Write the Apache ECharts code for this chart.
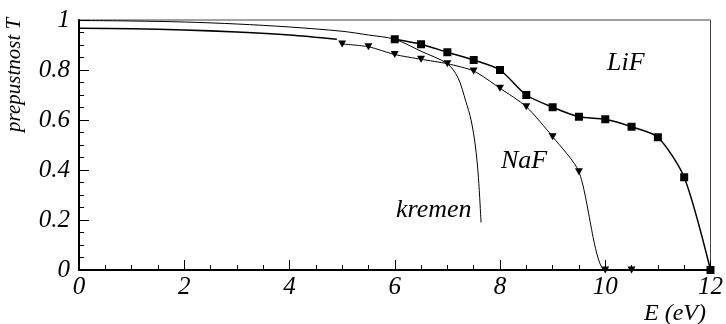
<!DOCTYPE html>
<html>
<head>
<meta charset="utf-8">
<script src="https://cdn.jsdelivr.net/npm/echarts@6/dist/echarts.min.js"></script>
<style>
html,body{margin:0;padding:0;background:#fff;}
#c{width:726px;height:324px;}
</style>
</head>
<body>
<div id="c"></div>
<script>
// Data
var kremenE = [0, 1, 2, 3, 4, 5, 5.5, 6, 6.5, 7, 7.2, 7.35, 7.45, 7.53, 7.59, 7.64];
var kremenT = [0.998, 0.996, 0.992, 0.984, 0.972, 0.955, 0.94, 0.923, 0.875, 0.825, 0.77, 0.675, 0.6, 0.5, 0.37, 0.19];

var nafLowE = [0, 1, 2, 3, 4, 4.9];
var nafLowT = [0.967, 0.965, 0.96, 0.952, 0.94, 0.923];

var nafE = [5, 5.5, 6, 6.5, 7, 7.5, 8, 8.5, 9, 9.5, 10, 10.5];
var nafT = [0.904, 0.893, 0.862, 0.843, 0.825, 0.796, 0.727, 0.653, 0.533, 0.393, 0.0, 0.0];

var lifE = [6, 6.5, 7, 7.5, 8, 8.5, 9, 9.5, 10, 10.5, 11, 11.5, 12];
var lifT = [0.923, 0.903, 0.871, 0.84, 0.8, 0.70, 0.651, 0.613, 0.603, 0.573, 0.531, 0.371, 0.0];

var xTicks = [0, 2, 4, 6, 8, 10, 12];
var yTicks = [0, 0.2, 0.4, 0.6, 0.8, 1];

var materialLabels = ['LiF', 'NaF', 'kremen'];
var xName = 'E (eV)';
var yName = 'prepustnost T';

function pairs(xs, ys) { return xs.map(function (x, i) { return [x, ys[i]]; }); }

var FONT = '"Liberation Serif", "DejaVu Serif", serif';
var chart = echarts.init(document.getElementById('c'), null, { renderer: 'canvas' });

var axisLabelStyle = { fontFamily: FONT, fontStyle: 'italic', fontSize: 25, color: '#000' };

chart.setOption({
  animation: false,
  backgroundColor: '#fff',
  grid: { left: 79, right: 13, top: 20, bottom: 54, show: true, borderColor: '#444', borderWidth: 1 },
  xAxis: {
    type: 'value', min: 0, max: 12, interval: 2,
    axisLine: { show: true, onZero: false, lineStyle: { color: '#000', width: 2 } },
    axisTick: { show: true, inside: true, length: 10, lineStyle: { color: '#000', width: 1 } },
    minorTick: { show: true, splitNumber: 4, length: 5, lineStyle: { color: '#000', width: 1 } },
    splitLine: { show: false },
    axisLabel: Object.assign({ margin: 5, formatter: function (v) { return xTicks.indexOf(v) >= 0 ? String(v) : ''; } }, axisLabelStyle)
  },
  yAxis: {
    type: 'value', min: 0, max: 1, interval: 0.2,
    axisLine: { show: true, onZero: false, lineStyle: { color: '#000', width: 2 } },
    axisTick: { show: true, inside: true, length: 10, lineStyle: { color: '#000', width: 1 } },
    minorTick: { show: true, splitNumber: 4, length: 5, lineStyle: { color: '#000', width: 1 } },
    splitLine: { show: false },
    axisLabel: Object.assign({ margin: 9, formatter: function (v) {
      for (var i = 0; i < yTicks.length; i++) { if (Math.abs(yTicks[i] - v) < 1e-9) return String(yTicks[i]); }
      return '';
    } }, axisLabelStyle)
  },
  graphic: [
    { type: 'text', left: 644, top: 302, style: { text: xName, font: 'italic 24px ' + FONT, fill: '#000' } },
    { type: 'text', x: 4, y: 132, rotation: Math.PI / 2, style: { text: yName, font: 'italic 21px ' + FONT, fill: '#000', textAlign: 'left', textVerticalAlign: 'top' } },
    { type: 'text', left: 607, top: 50, style: { text: materialLabels[0], font: 'italic 26px ' + FONT, fill: '#000' } },
    { type: 'text', left: 501, top: 148, style: { text: materialLabels[1], font: 'italic 26px ' + FONT, fill: '#000' } },
    { type: 'text', left: 396, top: 197, style: { text: materialLabels[2], font: 'italic 26px ' + FONT, fill: '#000' } }
  ],
  series: [
    {
      name: 'kremen', type: 'line', data: pairs(kremenE, kremenT), showSymbol: false, smooth: 0.3,
      lineStyle: { color: '#000', width: 1 }, z: 2
    },
    {
      name: 'NaF-low', type: 'line', data: pairs(nafLowE, nafLowT), showSymbol: false, smooth: 0.3,
      lineStyle: { color: '#000', width: 1.6 }, z: 2
    },
    {
      name: 'NaF', type: 'line', data: pairs(nafE, nafT), smooth: 0.25,
      symbol: 'triangle', symbolRotate: 180, symbolSize: [8, 7],
      itemStyle: { color: '#000' }, lineStyle: { color: '#000', width: 1 }, z: 3
    },
    {
      name: 'LiF', type: 'line', data: pairs(lifE, lifT), smooth: 0.25,
      symbol: 'rect', symbolSize: 8,
      itemStyle: { color: '#000' }, lineStyle: { color: '#000', width: 1.5 }, z: 3
    }
  ]
});
</script>
</body>
</html>
